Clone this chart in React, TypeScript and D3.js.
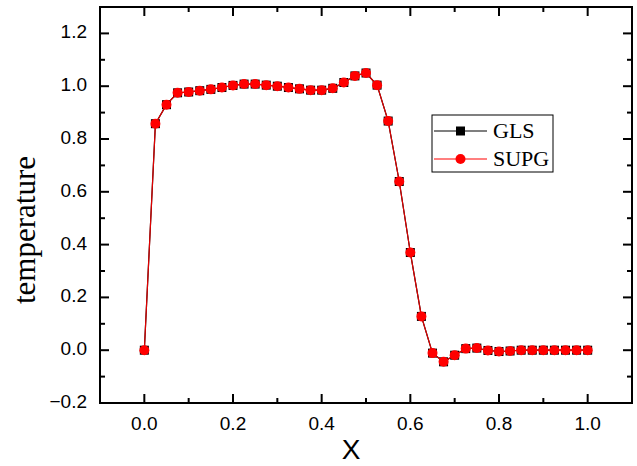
import React from 'react'
import * as d3 from 'd3'

// x positions of the mesh nodes
const xNodes = [
  0, 0.025, 0.05, 0.075, 0.1, 0.125, 0.15, 0.175, 0.2, 0.225,
  0.25, 0.275, 0.3, 0.325, 0.35, 0.375, 0.4, 0.425, 0.45, 0.475,
  0.5, 0.525, 0.55, 0.575, 0.6, 0.625, 0.65, 0.675, 0.7, 0.725,
  0.75, 0.775, 0.8, 0.825, 0.85, 0.875, 0.9, 0.925, 0.95, 0.975, 1.0,
]

const glsValues = [
  0, 0.858, 0.930, 0.975, 0.978, 0.983, 0.988, 0.995, 1.003, 1.008,
  1.008, 1.004, 1.000, 0.995, 0.990, 0.985, 0.985, 0.992, 1.014, 1.039,
  1.050, 1.004, 0.868, 0.639, 0.370, 0.128, -0.011, -0.044, -0.019, 0.006,
  0.008, -0.001, -0.005, -0.003, 0, 0, 0, 0, 0, 0, 0,
]

const supgValues = [
  0, 0.858, 0.930, 0.975, 0.978, 0.983, 0.988, 0.995, 1.003, 1.008,
  1.008, 1.004, 1.000, 0.995, 0.990, 0.985, 0.985, 0.992, 1.014, 1.039,
  1.050, 1.004, 0.868, 0.639, 0.370, 0.128, -0.011, -0.044, -0.019, 0.006,
  0.008, -0.001, -0.005, -0.003, 0, 0, 0, 0, 0, 0, 0,
]

const xMajor = [0, 0.2, 0.4, 0.6, 0.8, 1.0]
const xMinor = [-0.1, 0.1, 0.3, 0.5, 0.7, 0.9, 1.1]
const yMajor = [-0.2, 0, 0.2, 0.4, 0.6, 0.8, 1.0, 1.2]
const yMinor = [-0.1, 0.1, 0.3, 0.5, 0.7, 0.9, 1.1]

const W = 637, H = 466
const margin = { top: 7, right: 5, bottom: 63, left: 100 }

const App = () => {
  const x = d3.scaleLinear().domain([-0.1, 1.1]).range([margin.left, W - margin.right])
  const y = d3.scaleLinear().domain([-0.2, 1.3]).range([H - margin.bottom, margin.top])
  const x0 = margin.left, x1 = W - margin.right
  const y0 = H - margin.bottom, y1 = margin.top

  const glsPts = xNodes.map((d, i) => [d, glsValues[i]] as [number, number])
  const supgPts = xNodes.map((d, i) => [d, supgValues[i]] as [number, number])
  const line = d3.line<[number, number]>().x(d => x(d[0])).y(d => y(d[1]))

  const sans = 'Arial, "Liberation Sans", sans-serif'
  const serif = '"Times New Roman", "Liberation Serif", serif'
  const major = 9, minor = 5

  const lx = 432, ly = 115, lw = 121, lh = 57

  return (
    <div style={{ position: 'absolute', left: 0, top: 0 }}>
      <svg width={W} height={H} style={{ display: 'block', background: '#fff' }}>
        {/* data */}
        <path d={line(glsPts) || ''} fill="none" stroke="#000" strokeWidth={1.2} />
        {glsPts.map((d, i) => (
          <rect key={'g' + i} x={x(d[0]) - 4.5} y={y(d[1]) - 4.5} width={9} height={9} fill="#000" />
        ))}
        <path d={line(supgPts) || ''} fill="none" stroke="#e00000" strokeWidth={1.2} />
        {supgPts.map((d, i) => (
          <circle key={'s' + i} cx={x(d[0])} cy={y(d[1])} r={5} fill="#ff0000" />
        ))}

        {/* ticks on all four sides, pointing inward */}
        <g stroke="#000" strokeWidth={2}>
          {xMajor.map(t => (
            <g key={'xm' + t}>
              <line x1={x(t)} x2={x(t)} y1={y0} y2={y0 - major} />
              <line x1={x(t)} x2={x(t)} y1={y1} y2={y1 + major} />
            </g>
          ))}
          {xMinor.map(t => (
            <g key={'xn' + t}>
              <line x1={x(t)} x2={x(t)} y1={y0} y2={y0 - minor} />
              <line x1={x(t)} x2={x(t)} y1={y1} y2={y1 + minor} />
            </g>
          ))}
          {yMajor.map(t => (
            <g key={'ym' + t}>
              <line x1={x0} x2={x0 + major} y1={y(t)} y2={y(t)} />
              <line x1={x1} x2={x1 - major} y1={y(t)} y2={y(t)} />
            </g>
          ))}
          {yMinor.map(t => (
            <g key={'yn' + t}>
              <line x1={x0} x2={x0 + minor} y1={y(t)} y2={y(t)} />
              <line x1={x1} x2={x1 - minor} y1={y(t)} y2={y(t)} />
            </g>
          ))}
          <rect x={x0} y={y1} width={x1 - x0} height={y0 - y1} fill="none" />
        </g>

        {/* tick labels */}
        {xMajor.map(t => (
          <text key={'xl' + t} x={x(t)} y={y0 + 27} textAnchor="middle"
            fontFamily={sans} fontSize={19}>{d3.format('.1f')(t)}</text>
        ))}
        {yMajor.map(t => (
          <text key={'yl' + t} x={x0 - 13} y={y(t) + 5} textAnchor="end"
            fontFamily={sans} fontSize={19}>{d3.format('.1f')(t)}</text>
        ))}

        {/* axis titles */}
        <text x={351} y={459} textAnchor="middle" fontFamily={sans} fontSize={28}>X</text>
        <text transform={`translate(35,230) rotate(-90)`} textAnchor="middle"
          fontFamily={serif} fontSize={31}>temperature</text>

        {/* legend */}
        <rect x={lx} y={ly} width={lw} height={lh} fill="#fff" stroke="#000" strokeWidth={1} />
        <line x1={lx + 2} x2={lx + 55} y1={ly + 16} y2={ly + 16} stroke="#000" strokeWidth={1.2} />
        <rect x={lx + 28.5 - 4.5} y={ly + 16 - 4.5} width={9} height={9} fill="#000" />
        <text x={lx + 61} y={ly + 23} fontFamily={serif} fontSize={22}>GLS</text>
        <line x1={lx + 2} x2={lx + 55} y1={ly + 44} y2={ly + 44} stroke="#ff0000" strokeWidth={1.2} />
        <circle cx={lx + 28.5} cy={ly + 44} r={5} fill="#ff0000" />
        <text x={lx + 61} y={ly + 51} fontFamily={serif} fontSize={22}>SUPG</text>
      </svg>
    </div>
  )
}

export default App
